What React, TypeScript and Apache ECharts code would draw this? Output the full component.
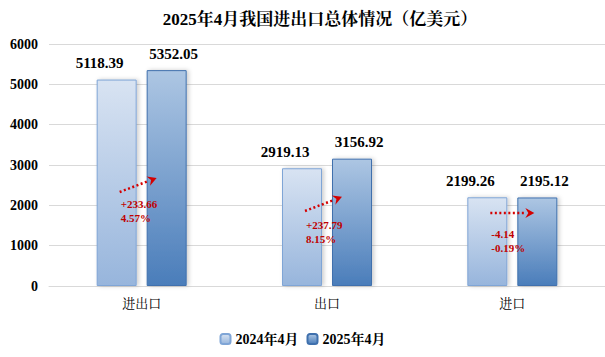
import React, { useEffect, useRef } from "react";
import * as echarts from "echarts";

const categories = ["进出口", "出口", "进口"];
const values2024 = [5118.39, 2919.13, 2199.26];
const values2025 = [5352.05, 3156.92, 2195.12];
const seriesNames = ["2024年4月", "2025年4月"];
const yTicks = { min: 0, max: 6000, interval: 1000 };

// change annotations
const arrowStart = [2330, 1860, 1810];
const arrowEnd = [2680, 2210, 1810];
const labelLevel = [2030, 1510, 1290];
const diffTexts = ["+233.66", "+237.79", "-4.14"];
const pctTexts = ["4.57%", "8.15%", "-0.19%"];

const FONT = "'Liberation Serif', 'Times New Roman', 'Noto Serif CJK SC', 'Noto Sans CJK SC', serif";

export default function App() {
  const ref = useRef<HTMLDivElement>(null);
  useEffect(() => {
    if (!ref.current) return;
    const chart = echarts.init(ref.current, null, { renderer: "svg" });
    const grad1 = new echarts.graphic.LinearGradient(0, 0, 0, 1, [
      { offset: 0, color: "#d8e3f2" },
      { offset: 1, color: "#97b5dc" },
    ]);
    const grad2 = new echarts.graphic.LinearGradient(0, 0, 0, 1, [
      { offset: 0, color: "#adc6e3" },
      { offset: 1, color: "#4a7dba" },
    ]);
    const arrowData = categories.map((_, i) => [i, arrowStart[i], arrowEnd[i], labelLevel[i]]);
    chart.setOption({
      animation: false,
      textStyle: { fontFamily: FONT },
      title: {
        text: "2025年4月我国进出口总体情况（亿美元）",
        left: 315,
        textAlign: "center",
        top: 6,
        textStyle: { fontSize: 17, fontWeight: "bold", color: "#000", fontFamily: FONT },
      },
      legend: {
        bottom: 6,
        left: "center",
        itemWidth: 10,
        itemHeight: 10,
        itemGap: 8,
        data: seriesNames,
        textStyle: { fontSize: 14, fontWeight: "bold", color: "#000", fontFamily: FONT },
      },
      grid: { left: 49, width: 559, top: 44, bottom: 71 },
      xAxis: {
        type: "category",
        data: categories,
        axisTick: { show: false },
        axisLine: { lineStyle: { color: "#d9d9d9", width: 1 } },
        axisLabel: { fontSize: 13, color: "#000", margin: 11, fontFamily: FONT },
      },
      yAxis: {
        type: "value",
        min: yTicks.min,
        max: yTicks.max,
        interval: yTicks.interval,
        axisLine: { show: false },
        axisTick: { show: false },
        splitLine: { lineStyle: { color: "#d9d9d9", width: 1 } },
        axisLabel: {
          fontSize: 14,
          fontWeight: "bold",
          color: "#000",
          margin: 11,
          fontFamily: FONT,
          formatter: (v: number) => String(v),
        },
      },
      series: [
        {
          name: seriesNames[0],
          type: "bar",
          data: values2024,
          barWidth: 40,
          barGap: "25%",
          itemStyle: {
            color: grad1,
            borderColor: "#7fa5d6",
            borderWidth: 1,
            shadowBlur: 4,
            shadowColor: "rgba(0,0,0,0.2)",
            shadowOffsetX: 2,
          },
          label: {
            show: true,
            position: "top",
            distance: 9,
            offset: [-17, 0],
            fontSize: 15,
            fontWeight: "bold",
            color: "#000",
            fontFamily: FONT,
            formatter: (p: any) => p.value.toFixed(2),
          },
        },
        {
          name: seriesNames[1],
          type: "bar",
          data: values2025,
          barWidth: 40,
          barGap: "25%",
          itemStyle: {
            color: grad2,
            borderColor: "#3f70ad",
            borderWidth: 1,
            shadowBlur: 4,
            shadowColor: "rgba(0,0,0,0.2)",
            shadowOffsetX: 2,
          },
          label: {
            show: true,
            position: "top",
            distance: 9,
            offset: [7, 0],
            fontSize: 15,
            fontWeight: "bold",
            color: "#000",
            fontFamily: FONT,
            formatter: (p: any) => p.value.toFixed(2),
          },
        },
        {
          type: "custom",
          silent: true,
          z: 10,
          data: arrowData,
          renderItem: (params: any, api: any) => {
            const i = params.dataIndex;
            const p0 = api.coord([api.value(0), api.value(1)]);
            const p1 = api.coord([api.value(0), api.value(2)]);
            const pl = api.coord([api.value(0), api.value(3)]);
            const x0 = p0[0] - 22;
            const y0 = p0[1];
            const horizontal = Math.abs(p1[1] - p0[1]) < 1;
            const x1 = p1[0] + (horizontal ? 22 : 15);
            const y1 = p1[1];
            const dx = x1 - x0;
            const dy = y1 - y0;
            const len = Math.sqrt(dx * dx + dy * dy);
            const ux = dx / len;
            const uy = dy / len;
            const hl = 9;
            const hw = 5;
            const bx = x1 - ux * hl;
            const by = y1 - uy * hl;
            const nx = -uy;
            const ny = ux;
            return {
              type: "group",
              children: [
                {
                  type: "line",
                  shape: { x1: x0, y1: y0, x2: bx, y2: by },
                  style: { stroke: "#d40000", lineWidth: 2.5, lineDash: [2, 2.5] },
                },
                {
                  type: "polygon",
                  shape: {
                    points: [
                      [x1, y1],
                      [bx + nx * hw, by + ny * hw],
                      [bx + ux * 3, by + uy * 3],
                      [bx - nx * hw, by - ny * hw],
                    ],
                  },
                  style: { fill: "#d40000" },
                },
                {
                  type: "text",
                  x: x0 + 1,
                  y: pl[1],
                  style: {
                    text: diffTexts[i],
                    fill: "#c00000",
                    fontSize: 11,
                    fontWeight: "bold",
                    fontFamily: FONT,
                    verticalAlign: "middle",
                  },
                },
                {
                  type: "text",
                  x: x0 + 1,
                  y: pl[1] + 14,
                  style: {
                    text: pctTexts[i],
                    fill: "#c00000",
                    fontSize: 11,
                    fontWeight: "bold",
                    fontFamily: FONT,
                    verticalAlign: "middle",
                  },
                },
              ],
            };
          },
        },
      ],
    });
    return () => chart.dispose();
  }, []);
  return (
    <div
      ref={ref}
      style={{ position: "fixed", left: 0, top: 0, width: 605, height: 357, background: "#fff" }}
    />
  );
}
